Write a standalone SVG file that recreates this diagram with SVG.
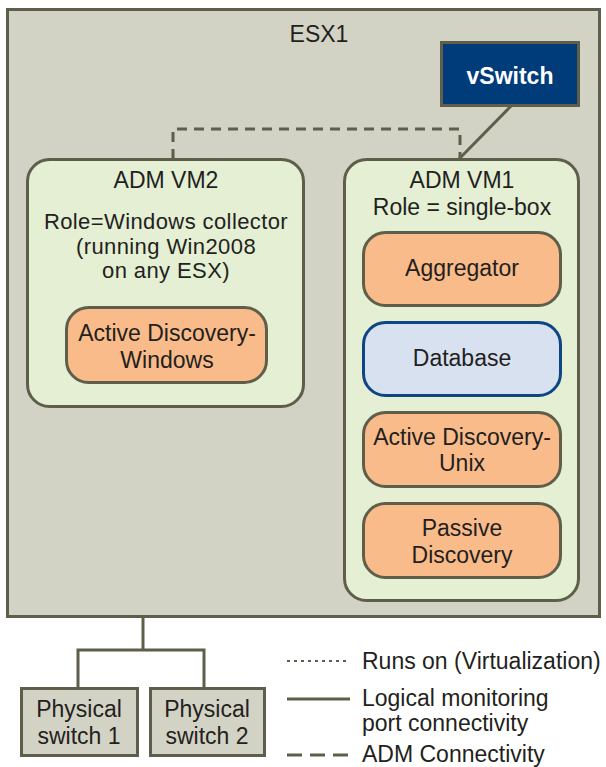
<svg xmlns="http://www.w3.org/2000/svg" width="606" height="767" viewBox="0 0 606 767">
<style>
text{font-family:"Liberation Sans",Arial,sans-serif;font-size:23px;fill:#231f20;text-anchor:middle}
.box{stroke:#5e5e4a;stroke-width:3}
.esx{fill:#d3d3c5}
.vm{fill:#e4efd4}
.comp{fill:#f9bb89}
.db{fill:#d8e1ef;stroke:#0d4585;stroke-width:3}
.ln{fill:none;stroke:#5e5e4a;stroke-width:3}
.dash{stroke-dasharray:10 7}
.dot{stroke-dasharray:3 4}
.lg{text-anchor:start}
.tight{font-size:22px;letter-spacing:0.4px}
</style>
<rect width="606" height="767" fill="#ffffff"/>
<g id="esx1">
<rect class="box esx" x="7.5" y="9.5" width="592" height="607"/>
<text x="319" y="42">ESX1</text>
</g>
<g id="vswitch">
<rect x="441.5" y="42.5" width="137" height="63" fill="#003b7a" stroke="#5e5e4a" stroke-width="3"/>
<text x="510" y="84" style="font-weight:bold;fill:#ffffff">vSwitch</text>
</g>
<g id="connectors">
<polyline class="ln dash" points="173,159 173,129 460,129 460,159"/>
<line class="ln" x1="511" y1="106" x2="459" y2="159"/>
<polyline class="ln" points="143,617 143,650"/>
<polyline class="ln" points="78,688 78,650 204,650 204,688"/>
</g>
<g id="adm-vm2">
<rect class="box vm" x="27.5" y="159.5" width="276" height="247" rx="22"/>
<text x="166" y="188">ADM VM2</text>
<text class="tight" x="166" y="229">Role=Windows collector</text>
<text class="tight" x="166" y="253.7">(running Win2008</text>
<text class="tight" x="166" y="278.4">on any ESX)</text>
</g>
<g id="ad-windows">
<rect class="box comp" x="66.5" y="307.5" width="200" height="75" rx="22"/>
<text x="167" y="341">Active Discovery-</text>
<text x="167" y="368">Windows</text>
</g>
<g id="adm-vm1">
<rect class="box vm" x="344.5" y="159.5" width="234" height="441" rx="22"/>
<text x="462" y="188">ADM VM1</text>
<text x="462" y="215">Role = single-box</text>
</g>
<g id="aggregator">
<rect class="box comp" x="363.5" y="232.5" width="197" height="73" rx="22"/>
<text x="462" y="276">Aggregator</text>
</g>
<g id="database">
<rect class="db" x="363.5" y="322.5" width="197" height="73" rx="22"/>
<text x="462" y="366">Database</text>
</g>
<g id="ad-unix">
<rect class="box comp" x="363.5" y="412.5" width="197" height="74" rx="22"/>
<text x="462" y="445">Active Discovery-</text>
<text x="462" y="471">Unix</text>
</g>
<g id="passive">
<rect class="box comp" x="363.5" y="503.5" width="197" height="74" rx="22"/>
<text x="462" y="536">Passive</text>
<text x="462" y="563">Discovery</text>
</g>
<g id="pswitch1">
<rect class="box esx" x="21.5" y="688.5" width="116" height="67"/>
<text x="79" y="717">Physical</text>
<text x="79" y="744">switch 1</text>
</g>
<g id="pswitch2">
<rect class="box esx" x="150.5" y="688.5" width="114" height="67"/>
<text x="207" y="717">Physical</text>
<text x="207" y="744">switch 2</text>
</g>
<g id="legend">
<line class="ln dot" x1="287" y1="661" x2="350" y2="661" style="stroke-width:2"/>
<text class="lg" x="362" y="669">Runs on (Virtualization)</text>
<line class="ln" x1="287" y1="699" x2="350" y2="699"/>
<text class="lg" x="362" y="706">Logical monitoring</text>
<text class="lg" x="362" y="731">port connectivity</text>
<line class="ln" x1="287" y1="755" x2="350" y2="755" style="stroke-dasharray:15 8"/>
<text class="lg" x="362" y="762">ADM Connectivity</text>
</g>
</svg>
